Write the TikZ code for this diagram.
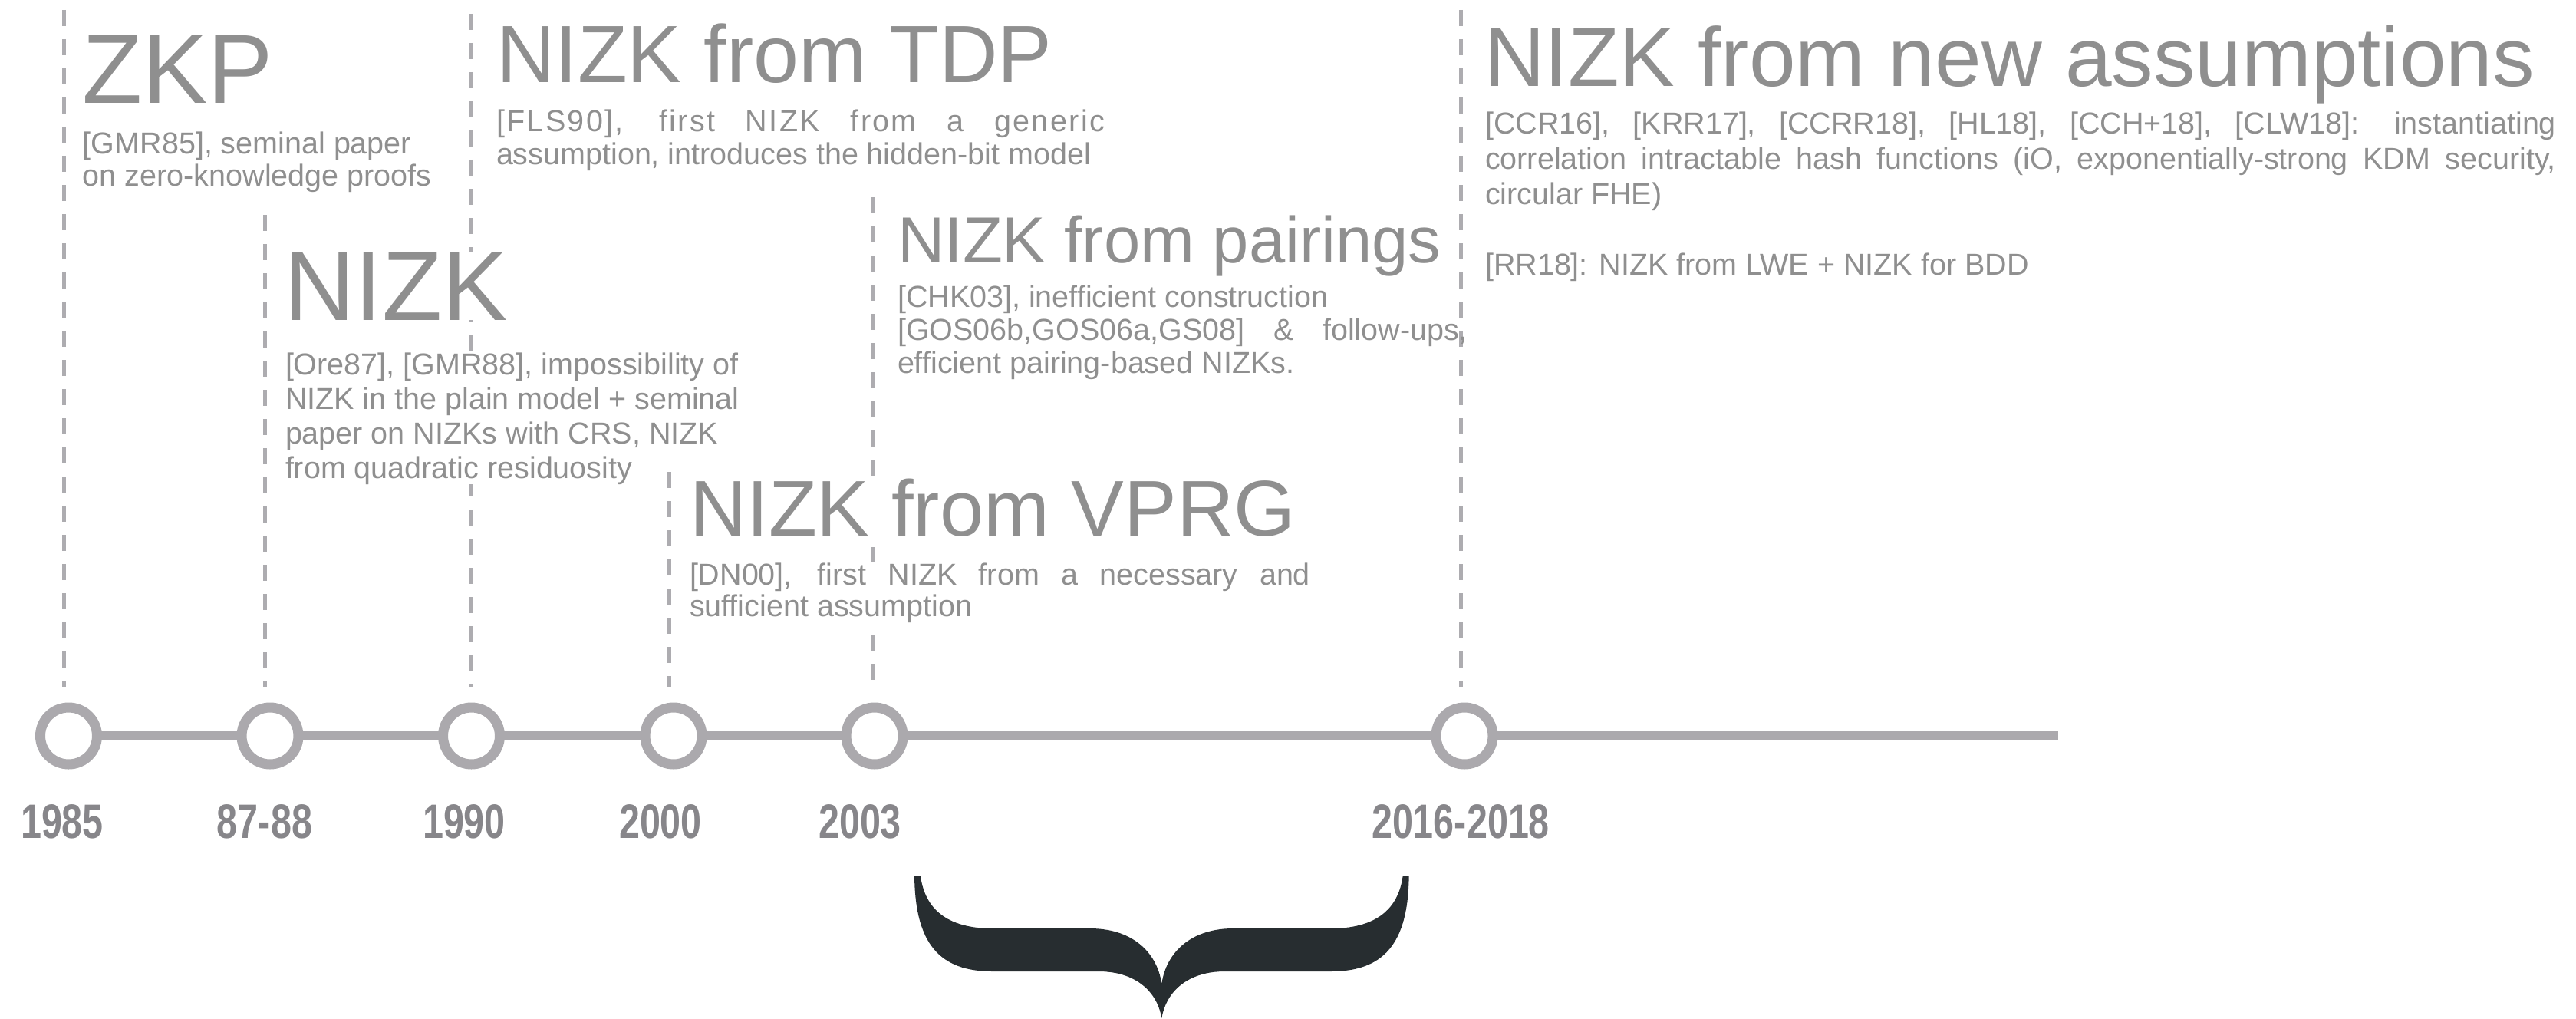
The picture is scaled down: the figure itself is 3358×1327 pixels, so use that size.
\documentclass[tikz,border=0pt]{standalone}
\usepackage{fontspec}
\setmainfont{Liberation Sans}
\usetikzlibrary{backgrounds}

\definecolor{txtgray}{HTML}{8F8F8F}
\definecolor{yeargray}{HTML}{87868A}
\definecolor{ringgray}{HTML}{ABA9AD}
\definecolor{dashgray}{HTML}{ADACB0}
\definecolor{bracedark}{HTML}{272D30}

% a justified line of fixed width
\newcommand{\jline}[2]{\makebox[#1][s]{#2}}

% multi-line text nodes are placed by the baseline of their last line
\tikzset{
  heading/.style={anchor=base west, inner sep=0pt, outer sep=0pt, text=txtgray},
  body/.style={anchor=base west, inner sep=0pt, outer sep=0pt, align=left, text=txtgray},
  opaque/.style={fill=white},
  year/.style={anchor=base, inner sep=0pt, text=yeargray,
    font=\bfseries\fontsize{15.75pt}{16pt}\selectfont},
  guide/.style={draw=dashgray, line width=1.25pt, dash pattern=on 5.25pt off 4.25pt},
  ring/.style={circle, draw=ringgray, line width=3.25pt, fill=white,
    minimum size=18.5pt, inner sep=0pt},
  tline/.style={draw=ringgray, line width=2.875pt},
  bracefill/.style={fill=bracedark, draw=none},
}

\begin{document}
\begin{tikzpicture}[x=0.25pt, y=-0.25pt]
\useasboundingbox (0,0) rectangle (3358,1327);

% ---- vertical dashed guides (text boxes below are drawn over them)
\coordinate (g1t) at (83,13);   \coordinate (g1b) at (83,895);
\coordinate (g2t) at (345,280); \coordinate (g2b) at (345,895);
\coordinate (g3t) at (613,18);  \coordinate (g3b) at (613,895);
\coordinate (g4t) at (872,615); \coordinate (g4b) at (872,895);
\coordinate (g5t) at (1138,257);\coordinate (g5b) at (1138,895);
\coordinate (g6t) at (1904,13); \coordinate (g6b) at (1904,895);
\foreach \i in {1,2,3,5,6} { \draw[guide] (g\i t) -- (g\i b); }

% ---- timeline milestones
\node[ring] (c1) at (89.5,959) {};
\node[ring] (c2) at (352,959) {};
\node[ring] (c3) at (614.5,959) {};
\node[ring] (c4) at (878,959) {};
\node[ring] (c5) at (1140,959) {};
\node[ring] (c6) at (1909,959) {};
\coordinate (tend) at (2683,959);
\begin{scope}[on background layer]
  \draw[tline] (c1.center) -- (tend);
\end{scope}

% ---- years
\node[year] (y1) at (81,1092)   {\scalebox{0.77}[1]{1985}};
\node[year] (y2) at (345,1092)  {\scalebox{0.77}[1]{87-88}};
\node[year] (y3) at (605,1092)  {\scalebox{0.77}[1]{1990}};
\node[year] (y4) at (861,1092)  {\scalebox{0.77}[1]{2000}};
\node[year] (y5) at (1121,1092) {\scalebox{0.77}[1]{2003}};
\node[year] (y6) at (1904,1092) {\scalebox{0.77}[1]{2016-2018}};

% ---- 1985
\node[heading, font=\fontsize{32pt}{32pt}\selectfont] (hzkp) at (107,135) {ZKP};
\node[body, font=\fontsize{9.875pt}{10.5pt}\selectfont] (bzkp) at (108,242)
  {[GMR85], seminal paper\\on zero-knowledge proofs};

% ---- 87-88
\node[heading, opaque, font=\fontsize{32pt}{32pt}\selectfont] (hnizk) at (370,417) {NIZK};
\node[body, opaque, font=\fontsize{9.875pt}{11.25pt}\selectfont] (bnizk) at (372,623)
  {[Ore87], [GMR88], impossibility of\\NIZK in the plain model + seminal\\paper on NIZKs with CRS, NIZK\\from quadratic residuosity};

% ---- 1990
\node[heading, font=\fontsize{26.5pt}{26.5pt}\selectfont] (htdp) at (647,108) {NIZK from TDP};
\node[body, font=\fontsize{9.875pt}{10.5pt}\selectfont] (btdp) at (647,214)
  {\jline{198.25pt}{\addfontfeature{LetterSpace=6}[FLS90], first NIZK from a generic}\\assumption, introduces the hidden-bit model};

% ---- 2003 (pairings)
\node[heading, font=\fontsize{21.25pt}{21.25pt}\selectfont] (hpair) at (1170,342) {NIZK from pairings};
\node[body, font=\fontsize{9.875pt}{10.75pt}\selectfont] (bpair) at (1170,486)
  {[CHK03], inefficient construction\\\jline{185.75pt}{[GOS06b,GOS06a,GS08] \& follow-ups,}\\efficient pairing-based NIZKs.};

% ---- 2000
\node[heading, opaque, font=\fontsize{25.75pt}{25.75pt}\selectfont] (hvprg) at (899,698) {NIZK from VPRG};
\node[body, opaque, font=\fontsize{9.875pt}{10.25pt}\selectfont] (bvprg) at (899,803)
  {\jline{202.25pt}{[DN00], first NIZK from a necessary and}\\sufficient assumption};

% the 2000 guide starts right beside the 87-88 text block
\draw[guide] (g4t) -- (g4b);

% ---- 2016-2018
\node[heading, font=\fontsize{27.25pt}{27.25pt}\selectfont] (hnew) at (1935,113) {NIZK from new assumptions};
\node[body, font=\fontsize{9.875pt}{11.5pt}\selectfont] (bnew) at (1936,358)
  {\jline{349pt}{[CCR16], [KRR17], [CCRR18], [HL18], [CCH+18], [CLW18]: instantiating}\\\jline{349pt}{correlation intractable hash functions (iO, exponentially-strong KDM security,}\\circular FHE)\\[11.5pt][RR18]: NIZK from LWE + NIZK for BDD};

% ---- curly brace below the timeline
\fill[bracefill] (1192,1142) -- (1200,1142)
  .. controls (1206,1185) and (1235,1210) .. (1294,1210)
  -- (1421,1210)
  .. controls (1475,1210) and (1508,1240) .. (1514.3,1282)
  .. controls (1520.6,1240) and (1553.6,1210) .. (1607.6,1210)
  -- (1734.6,1210)
  .. controls (1793.6,1210) and (1822.6,1185) .. (1828.6,1142)
  -- (1836.6,1142)
  .. controls (1835.6,1230) and (1803.6,1266) .. (1734.6,1266)
  -- (1596.6,1266)
  .. controls (1550.6,1266) and (1520.6,1290) .. (1514.3,1327)
  .. controls (1508,1290) and (1478,1266) .. (1432,1266)
  -- (1294,1266)
  .. controls (1225,1266) and (1193,1230) .. (1192,1142)
  -- cycle;
\end{tikzpicture}
\end{document}
